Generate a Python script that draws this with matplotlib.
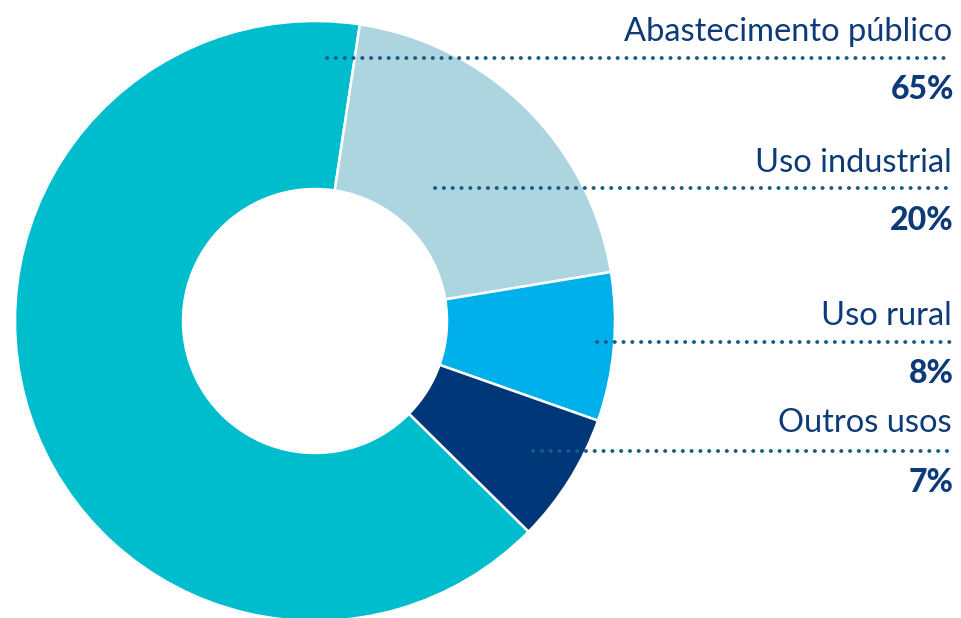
import matplotlib.pyplot as plt
import numpy as np

# Data
categories = ['Abastecimento público', 'Uso industrial', 'Uso rural', 'Outros usos']
shares = [65, 20, 8, 7]
pct_labels = ['65%', '20%', '8%', '7%']
colors = ['#00bdcd', '#acd5df', '#00b0ea', '#003778']

# Layout (pixel coordinates, y measured from top)
W, H = 962, 618
cx, cy, r_out, r_in = 315, 321, 300, 132
label_base = [41, 172, 325, 432]   # baseline of category text
line_y = [58, 188, 342, 451]       # dotted leader lines
line_x0 = [327, 435, 597, 533]
pct_base = [99, 230, 383, 492]
x_right = 952
text_color = '#0d3a78'
dot_color = '#1a5a88'

fig = plt.figure(figsize=(W / 100, H / 100), dpi=100)
ax = fig.add_axes([0, 0, 1, 1])

# start so that the 65% wedge ends at ~81 deg going clockwise
ax.pie(shares, colors=colors, center=(cx, H - cy), radius=r_out,
       startangle=-44.6, counterclock=False,
       wedgeprops=dict(width=r_out - r_in, edgecolor='white', linewidth=1.8),
       frame=True)
ax.set_xlim(0, W)
ax.set_ylim(0, H)
ax.set_aspect('equal')
ax.axis('off')

lw = 2.8
for i, cat in enumerate(categories):
    ax.text(x_right, H - label_base[i], cat, ha='right', va='baseline',
            fontsize=23.5, color=text_color, family='Lato')
    ax.plot([line_x0[i], x_right], [H - line_y[i]] * 2, color=dot_color,
            lw=lw, linestyle=(0, (0.05, 6.2 / lw)), dash_capstyle='round',
            solid_capstyle='round')
    ax.text(x_right + 2, H - pct_base[i], pct_labels[i], ha='right', va='baseline',
            fontsize=23, color=text_color, family='Lato', weight='black')

fig.savefig('out.png', dpi=100)
